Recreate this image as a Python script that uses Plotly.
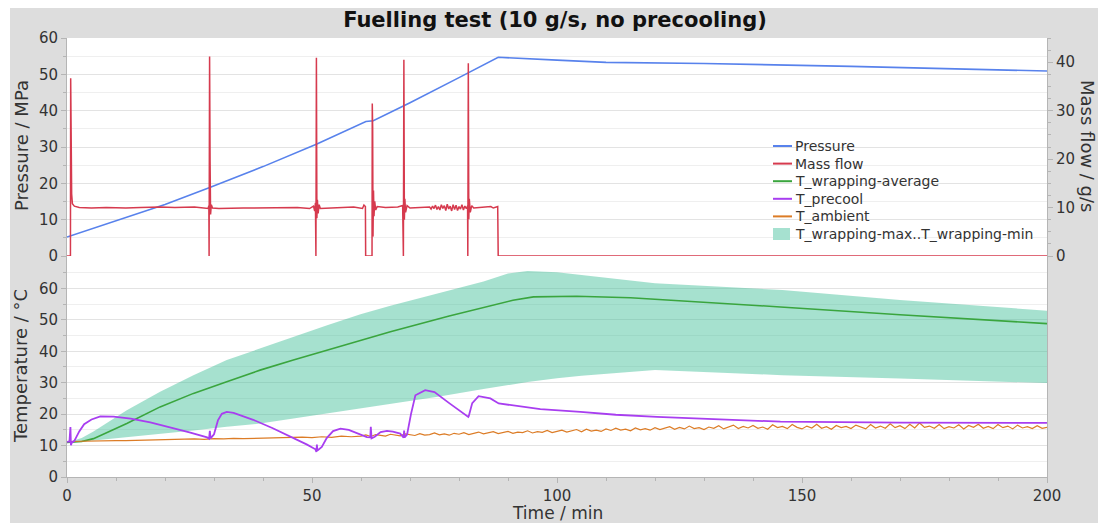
import plotly.graph_objects as go

# ---------------- data ----------------
pressure_time = [0, 10, 20, 29, 40, 51, 56, 61, 62.5, 70, 80, 88, 100, 110, 130, 160, 200]
pressure_mpa = [5.2, 9.6, 14.2, 18.8, 24.6, 30.8, 33.9, 37.0, 37.2, 42.2, 49.1, 54.7, 53.9, 53.3, 53.0, 52.2, 50.9]

mass_flow_points = [
    (0, 0), (0.7, 0), (0.75, 36.7), (0.85, 13.5), (0.95, 12.8), (1.1, 10.8), (1.5, 10.3), (2.5, 10.0),
    (5, 9.9), (8, 10.0), (12, 9.9), (15, 10.0), (19, 10.1), (22, 10.0), (26, 10.1), (28.8, 9.8),
    (28.95, 10.4), (29.0, 0), (29.1, 41.2), (29.2, 19.5), (29.3, 8.6), (29.45, 10.6), (29.7, 9.9),
    (31, 9.8), (36, 9.9), (42, 10.0), (47, 10.0), (49.5, 9.8), (50.3, 10.3), (50.55, 9.3), (50.7, 11.0),
    (50.8, 0), (50.9, 40.9), (51.0, 7.8), (51.1, 11.6), (51.25, 8.8), (51.45, 10.6), (51.7, 9.8),
    (55, 10.0), (58.5, 10.1), (60.3, 9.8), (60.6, 10.5), (60.9, 10.2), (60.95, 0), (62.25, 0),
    (62.3, 31.5), (62.38, 26.5), (62.45, 4.0), (62.55, 13.5), (62.65, 8.2), (62.8, 11.3), (63.0, 9.5),
    (63.3, 10.2), (65, 10.0), (67.5, 10.1), (68.5, 10.4), (68.65, 0), (68.75, 40.5), (68.85, 7.5),
    (68.95, 11.8), (69.1, 9.0), (69.4, 10.4), (70, 9.9), (72, 10.0), (74, 10.1), (74.3, 9.7),
    (74.6, 10.3), (74.9, 9.8), (75.2, 10.5), (75.5, 9.6), (75.8, 10.2), (76.1, 9.5), (76.4, 10.6),
    (76.7, 9.8), (77.0, 10.4), (77.3, 9.4), (77.6, 10.7), (77.9, 9.7), (78.2, 10.3), (78.5, 9.3),
    (78.8, 10.6), (79.1, 9.6), (79.4, 10.5), (79.7, 9.4), (80.0, 10.2), (80.3, 9.7), (80.6, 10.6),
    (80.9, 9.5), (81.2, 10.3), (81.5, 9.8), (81.75, 10.3), (81.8, 0), (81.9, 39.8), (82.0, 7.6),
    (82.1, 11.8), (82.3, 9.0), (82.6, 10.4), (83, 9.9), (85, 10.0), (86.5, 10.2), (87, 9.9),
    (87.9, 10.2), (88.0, 0), (200, 0),
]

avg_time = [0, 3, 5.4, 12.2, 19, 25.8, 32.6, 39.4, 46.2, 53.1, 59.9, 66, 78, 88, 91, 95.2, 104, 115, 130, 145.6, 170, 200]
wrap_avg = [11.0, 11.3, 12.2, 17.0, 22.3, 26.6, 30.3, 34.0, 37.2, 40.4, 43.5, 46.2, 51.2, 55.0, 56.2, 57.3, 57.5, 57.0, 55.6, 54.1, 51.6, 48.8]

band_time = [0, 3, 5.4, 8, 12.2, 19, 25.8, 32.6, 39.4, 46.2, 53.1, 59.9, 66, 76, 85, 90, 94, 100, 105, 120, 146, 170, 200]
wrap_max = [11.0, 12.4, 14.5, 17.0, 21.2, 27.1, 32.4, 37.2, 40.9, 44.6, 48.3, 51.8, 54.5, 58.5, 62.2, 64.7, 65.5, 65.1, 64.2, 61.6, 59.5, 56.3, 52.9]
wrap_min = [11.0, 11.2, 11.6, 12.0, 12.6, 13.8, 14.8, 16.0, 17.0, 18.6, 20.2, 21.8, 23.2, 25.6, 28.0, 29.2, 30.2, 31.4, 32.2, 34.0, 32.4, 31.3, 29.9]

precool_points = [
    (0, 11.2), (0.5, 11.3), (0.7, 15.9), (0.8, 10.1), (1.0, 11.0), (1.5, 11.5), (2.5, 14.5), (3.5, 16.8),
    (5, 18.3), (6.8, 19.3), (9.5, 19.2), (13, 18.6), (17, 17.4), (21, 15.9), (25, 14.2), (28.6, 12.6),
    (29.0, 12.2), (29.15, 14.7), (29.3, 12.3), (30, 13.6), (30.8, 18.0), (31.6, 20.1), (32.6, 20.7),
    (34, 20.4), (38, 18.2), (42, 15.5), (46, 12.6), (49, 10.3), (50.7, 8.8), (50.9, 8.0), (51.0, 10.3),
    (51.1, 8.4), (52, 9.6), (53, 12.4), (54.3, 14.6), (55.8, 15.4), (57.5, 15.0), (59.5, 13.8),
    (61.2, 12.7), (61.9, 12.6), (62.0, 16.0), (62.15, 12.3), (62.8, 12.8), (64, 14.3), (65.3, 14.7),
    (66.5, 14.4), (68, 13.8), (68.7, 12.5), (68.8, 14.8), (68.9, 12.6), (69.4, 13.5), (70.2, 20.0),
    (71.1, 26.0), (73.1, 27.6), (75, 27.0), (78, 23.5), (81.3, 19.8), (81.9, 19.1), (82.0, 19.4),
    (82.7, 23.5), (84, 25.7), (86.4, 25.0), (88.1, 23.4), (92, 22.5), (96.6, 21.6), (104.8, 20.7),
    (112, 19.8), (120.4, 19.1), (132, 18.3), (145.6, 17.6), (170, 17.3), (200, 17.2),
]

ambient_time_early = [0, 2, 4, 6, 8, 10, 12, 14, 16, 18, 20, 22, 24, 26, 28, 30, 32, 34, 36, 38, 40,
                      42, 44, 46, 48, 50, 52, 54, 56, 58]
ambient_early = [11.3, 11.4, 11.4, 11.5, 11.5, 11.6, 11.6, 11.7, 11.8, 11.7, 11.9, 11.9, 12.0, 12.1,
                 12.0, 12.2, 12.1, 12.3, 12.2, 12.3, 12.2, 12.4, 12.6, 12.5, 12.7, 12.5, 12.8, 12.6,
                 13.0, 12.8]
ambient_late = [
    13.0, 13.4, 12.9, 13.5, 13.2, 13.0, 13.6, 13.3, 13.1, 13.7,
    13.4, 13.2, 13.8, 13.3, 13.5, 14.0, 13.4, 13.7, 13.3, 13.9,
    13.6, 14.1, 13.5, 13.9, 14.3, 13.7, 14.0, 14.4, 13.8, 14.2,
    14.5, 13.9, 14.3, 14.1, 14.7, 14.0, 14.4, 14.2, 14.8, 14.1,
    14.5, 14.9, 14.3, 14.7, 15.1, 14.4, 15.2, 14.6, 14.9, 14.5,
    15.3, 14.8, 15.5, 14.9, 15.2, 14.7, 15.6, 15.0, 15.4, 14.9,
    15.7, 15.1, 15.5, 16.0, 15.2, 15.8, 15.3, 16.2, 15.4, 15.7,
    15.1, 15.9, 15.5, 16.3, 15.3, 15.8, 16.5, 15.4, 16.1, 15.6,
    16.4, 15.5, 15.9, 15.2, 16.6, 15.7, 16.1, 15.4, 16.7, 15.8,
    15.3, 16.2, 15.6, 16.8, 15.5, 16.0, 15.2, 16.4, 15.7, 16.1,
    15.4, 16.5, 15.8, 15.3, 16.7, 15.6, 16.2, 15.5, 16.9, 15.7,
    16.3, 15.4, 16.8, 15.6, 17.2, 15.8, 16.2, 15.5, 16.7, 15.4,
    16.0, 15.6, 16.6, 15.3, 16.4, 15.8, 16.8, 15.5, 16.1, 15.4,
    16.7, 15.7, 16.2, 15.3, 16.5, 15.6, 16.0, 15.4, 16.3, 15.5,
    15.8,
]
ambient_time_late = list(range(60, 201))

x_ticks = [0, 50, 100, 150, 200]
pressure_ticks = [0, 10, 20, 30, 40, 50, 60]
flow_ticks = [0, 10, 20, 30, 40]
temp_ticks = [0, 10, 20, 30, 40, 50, 60]

legend_labels = ["Pressure", "Mass flow", "T_wrapping-average", "T_precool", "T_ambient",
                 "T_wrapping-max..T_wrapping-min"]

# ---------------- styling ----------------
FONT = "DejaVu Sans"
TXT = "#333333"
GRID = "#e3e3e3"
GRID_MINOR = "#efefef"
AXLINE = "#b5b5b5"
C_P = "rgb(88,130,236)"
C_MF = "rgb(214,58,78)"
C_AVG = "rgb(58,165,62)"
C_PRE = "rgb(168,62,240)"
C_AMB = "rgb(220,124,38)"
C_BAND = "rgba(62,190,150,0.46)"
C_BAND_SWATCH = "rgb(166,225,208)"

W, H = 1102, 523
ML, MR, MT, MB = 67, 55, 38, 46
PW, PH = W - ML - MR, H - MT - MB
split = (H - MB - 256) / PH


def px_x(px):
    return (px - ML) / PW


def px_y(py):
    return (H - MB - py) / PH


mf_t = [p[0] for p in mass_flow_points]
mf_v = [p[1] for p in mass_flow_points]
pc_t = [p[0] for p in precool_points]
pc_v = [p[1] for p in precool_points]
amb_t = ambient_time_early + ambient_time_late
amb_v = ambient_early + ambient_late

fig = go.Figure()

# bottom panel (temperatures)
fig.add_trace(go.Scatter(x=band_time, y=wrap_max, xaxis="x", yaxis="y3", mode="lines",
                         line=dict(width=0, color=C_BAND), showlegend=False, hoverinfo="skip"))
fig.add_trace(go.Scatter(x=band_time, y=wrap_min, xaxis="x", yaxis="y3", mode="lines",
                         line=dict(width=0, color=C_BAND), fill="tonexty", fillcolor=C_BAND,
                         name=legend_labels[5], showlegend=False))
fig.add_trace(go.Scatter(x=avg_time, y=wrap_avg, xaxis="x", yaxis="y3", mode="lines",
                         line=dict(width=1.6, color=C_AVG), name=legend_labels[2], showlegend=False))
fig.add_trace(go.Scatter(x=amb_t, y=amb_v, xaxis="x", yaxis="y3", mode="lines",
                         line=dict(width=1.2, color=C_AMB), name=legend_labels[4], showlegend=False))
fig.add_trace(go.Scatter(x=pc_t, y=pc_v, xaxis="x", yaxis="y3", mode="lines",
                         line=dict(width=1.8, color=C_PRE), name=legend_labels[3], showlegend=False))

# top panel
fig.add_trace(go.Scatter(x=pressure_time, y=pressure_mpa, xaxis="x2", yaxis="y", mode="lines",
                         line=dict(width=1.6, color=C_P), name=legend_labels[0], showlegend=False))
fig.add_trace(go.Scatter(x=mf_t, y=mf_v, xaxis="x2", yaxis="y2", mode="lines",
                         line=dict(width=1.5, color=C_MF), name=legend_labels[1], showlegend=False))

tickfont = dict(family=FONT, size=15, color=TXT)

fig.update_layout(
    width=W, height=H,
    margin=dict(l=ML, r=MR, t=MT, b=MB, pad=0),
    paper_bgcolor="#dddddd",
    plot_bgcolor="white",
    font=dict(family=FONT, size=15, color=TXT),
    title=dict(text="<b>Fuelling test (10 g/s, no precooling)</b>",
               font=dict(family=FONT, size=21, color="#111111"),
               x=px_x(555), xref="paper", xanchor="center",
               y=1 - 20 / H, yref="container", yanchor="middle"),
    showlegend=False,
    xaxis=dict(domain=[0, 1], anchor="y3", range=[0, 200], tickvals=x_ticks,
               ticks="outside", ticklen=5, tickcolor=AXLINE, tickfont=tickfont,
               showline=True, linecolor=AXLINE, linewidth=1, showgrid=False, zeroline=False,
               minor=dict(dtick=10, tick0=0, ticks="outside", ticklen=3, tickcolor=AXLINE, showgrid=False)),
    xaxis2=dict(domain=[0, 1], anchor="y", matches="x", range=[0, 200], showticklabels=False,
                ticks="", showline=False, showgrid=False, zeroline=False),
    yaxis=dict(domain=[split, 1], anchor="x2", range=[0, 60], tickvals=pressure_ticks,
               ticks="outside", ticklen=5, tickcolor=AXLINE, tickfont=tickfont,
               showline=True, linecolor=AXLINE, linewidth=1, showgrid=True, gridcolor=GRID,
               zeroline=False,
               minor=dict(dtick=5, tick0=0, ticks="outside", ticklen=3, tickcolor=AXLINE,
                          showgrid=True, gridcolor=GRID_MINOR)),
    yaxis2=dict(overlaying="y", side="right", anchor="x2", range=[0, 45], tickvals=flow_ticks,
                ticks="outside", ticklen=5, tickcolor=AXLINE, tickfont=tickfont,
                showline=True, linecolor=AXLINE, linewidth=1, showgrid=False, zeroline=False,
                minor=dict(dtick=2.5, tick0=0, ticks="outside", ticklen=3, tickcolor=AXLINE,
                           showgrid=False)),
    yaxis3=dict(domain=[0, split], anchor="x", range=[0, 70.3], tickvals=temp_ticks,
                ticks="outside", ticklen=5, tickcolor=AXLINE, tickfont=tickfont,
                showline=True, mirror=True, linecolor=AXLINE, linewidth=1, showgrid=True,
                gridcolor=GRID, zeroline=False,
                minor=dict(dtick=5, tick0=0, ticks="outside", ticklen=3, tickcolor=AXLINE,
                           showgrid=True, gridcolor=GRID_MINOR)),
)

# white page border strips around the grey chart frame
for x0, x1, y0, y1 in [(0, 10, 0, H), (0, W, 0, 8), (1098, W, 0, H)]:
    fig.add_shape(type="rect", xref="paper", yref="paper",
                  x0=px_x(x0), x1=px_x(x1), y0=px_y(y1), y1=px_y(y0),
                  fillcolor="white", line=dict(width=0), layer="below")

# legend (drawn as shapes + text to match the compact row spacing of the original)
legend_colors = [C_P, C_MF, C_AVG, C_PRE, C_AMB, C_BAND_SWATCH]
for i, (label, col) in enumerate(zip(legend_labels, legend_colors)):
    ry = 146 + i * 17.6
    if i < 5:
        fig.add_shape(type="line", xref="paper", yref="paper",
                      x0=px_x(773), x1=px_x(792), y0=px_y(ry), y1=px_y(ry),
                      line=dict(color=col, width=2))
    else:
        fig.add_shape(type="rect", xref="paper", yref="paper",
                      x0=px_x(773), x1=px_x(790), y0=px_y(ry + 6), y1=px_y(ry - 6),
                      fillcolor=col, line=dict(width=0))
    fig.add_annotation(text=label, xref="paper", yref="paper", x=px_x(793), y=px_y(ry),
                       xanchor="left", yanchor="middle", showarrow=False,
                       font=dict(family=FONT, size=14, color=TXT))

axis_title_font = dict(family=FONT, size=18, color=TXT)
fig.add_annotation(text="Pressure / MPa", xref="paper", yref="paper", x=px_x(21), y=px_y(146),
                   textangle=-90, showarrow=False, font=axis_title_font, xanchor="center", yanchor="middle")
fig.add_annotation(text="Temperature / °C", xref="paper", yref="paper", x=px_x(21), y=px_y(366),
                   textangle=-90, showarrow=False, font=axis_title_font, xanchor="center", yanchor="middle")
fig.add_annotation(text="Mass flow / g/s", xref="paper", yref="paper", x=px_x(1088), y=px_y(146),
                   textangle=90, showarrow=False, font=axis_title_font, xanchor="center", yanchor="middle")
fig.add_annotation(text="Time / min", xref="paper", yref="paper", x=px_x(557), y=px_y(513),
                   showarrow=False, font=dict(family=FONT, size=17, color=TXT),
                   xanchor="center", yanchor="middle")

fig.write_html("out.html", config={"displayModeBar": False},
               post_script="document.body.style.margin='0';document.body.style.overflow='hidden';")
